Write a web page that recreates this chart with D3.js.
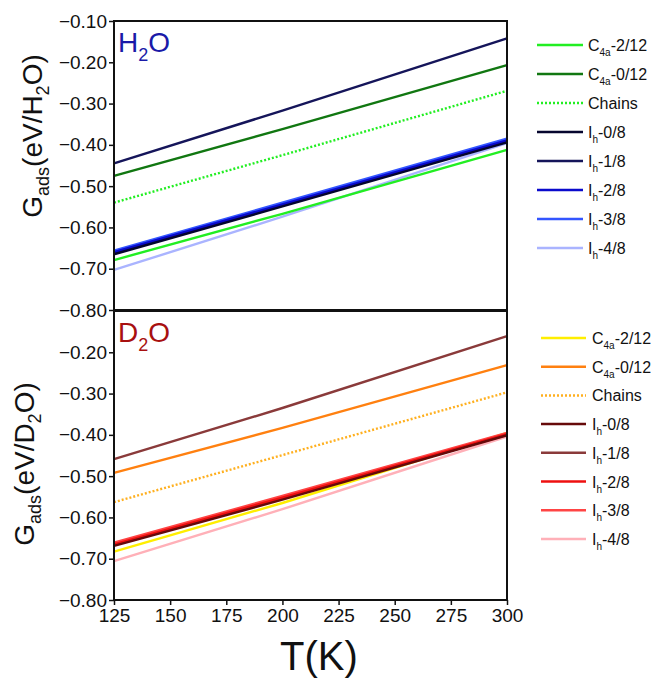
<!DOCTYPE html>
<html>
<head>
<meta charset="utf-8">
<script src="https://cdn.jsdelivr.net/npm/d3@7"></script>
<style>
  body { margin: 0; background: #fff; }
  text { font-family: "Liberation Sans", Arial, sans-serif; }
</style>
</head>
<body>
<script>
// temperatures (K) at which values were read
var temps = [125, 200, 300];
var xTicks = [125, 150, 175, 200, 225, 250, 275, 300];
var yTicks = [-0.8, -0.7, -0.6, -0.5, -0.4, -0.3, -0.2, -0.1];

var seriesNames = ["C4a-2/12", "C4a-0/12", "Chains", "Ih-0/8", "Ih-1/8", "Ih-2/8", "Ih-3/8", "Ih-4/8"];

// H2O panel
var h2oC4a212 = [-0.679, -0.567, -0.412];
var h2oC4a012 = [-0.475, -0.362, -0.207];
var h2oChains = [-0.540, -0.425, -0.269];
var h2oIh08 = [-0.665, -0.549, -0.394];
var h2oIh18 = [-0.445, -0.317, -0.142];
var h2oIh28 = [-0.661, -0.545, -0.390];
var h2oIh38 = [-0.657, -0.541, -0.386];
var h2oIh48 = [-0.703, -0.574, -0.396];

// D2O panel
var d2oC4a212 = [-0.683, -0.565, -0.395];
var d2oC4a012 = [-0.492, -0.383, -0.231];
var d2oChains = [-0.563, -0.449, -0.297];
var d2oIh08 = [-0.669, -0.557, -0.401];
var d2oIh18 = [-0.459, -0.335, -0.161];
var d2oIh28 = [-0.666, -0.553, -0.399];
var d2oIh38 = [-0.662, -0.549, -0.396];
var d2oIh48 = [-0.706, -0.580, -0.404];

var h2oColors = ["#22ee22", "#117711", "#22ee22", "#05052e", "#15155a", "#0a0acc", "#3355ff", "#aab4ff"];
var d2oColors = ["#ffee00", "#ff8010", "#ffb020", "#660a0a", "#8a3a3a", "#ee1010", "#ff4444", "#ffb0b8"];

var width = 654, height = 678;
var left = 114, right = 507;

var svg = d3.select("body").append("svg")
  .attr("width", width)
  .attr("height", height)
  .attr("font-family", "Liberation Sans, Arial, sans-serif");

var x = d3.scaleLinear().domain([125, 300]).range([left, right]);

var panels = [
  { top: 21, bottom: 310, name: "H", color: "#1a1aa8",
    series: [h2oC4a212, h2oC4a012, h2oChains, h2oIh08, h2oIh18, h2oIh28, h2oIh38, h2oIh48],
    colors: h2oColors, legY: 45, legX1: 537, legX2: 583, legT: 588, labelX: 42, labelY: 136 },
  { top: 311, bottom: 600, name: "D", color: "#a81010",
    series: [d2oC4a212, d2oC4a012, d2oChains, d2oIh08, d2oIh18, d2oIh28, d2oIh38, d2oIh48],
    colors: d2oColors, legY: 338, legX1: 541, legX2: 586, legT: 592, labelX: 34, labelY: 464 }
];

// draw order so the thick dark Ih-0/8 sits on top of its cluster
var drawOrder = [7, 0, 1, 2, 4, 6, 5, 3];

panels.forEach(function(p, pi) {
  var y = d3.scaleLinear().domain([-0.8, -0.1]).range([p.bottom, p.top]);

  var line = d3.line()
    .x(function(d, i) { return x(temps[i]); })
    .y(function(d) { return y(d); });

  var g = svg.append("g");

  drawOrder.forEach(function(k) {
    g.append("path")
      .datum(p.series[k])
      .attr("d", line)
      .attr("fill", "none")
      .attr("stroke", p.colors[k])
      .attr("stroke-width", k === 5 || k === 6 ? 3.2 : 2.4)
      .attr("stroke-dasharray", k === 2 ? "2,2" : null);
  });

  // y axis
  var yAxis = d3.axisLeft(y).tickValues(pi === 0 ? yTicks : yTicks.slice(0, 7))
    .tickFormat(d3.format(".2f")).tickSize(5).tickPadding(2);
  var ya = svg.append("g").attr("transform", "translate(" + left + ",0)").call(yAxis);
  ya.attr("font-family", null);
  ya.select(".domain").remove();
  ya.selectAll("line").attr("stroke", "#111").attr("stroke-width", 1.5);
  ya.selectAll("text").attr("font-size", 19).attr("fill", "#111");

  // frame
  svg.append("rect")
    .attr("x", left).attr("y", p.top)
    .attr("width", right - left).attr("height", p.bottom - p.top)
    .attr("fill", "none").attr("stroke", "#111").attr("stroke-width", 2);

  // panel label
  var pl = svg.append("text")
    .attr("x", 118).attr("y", p.top + 31)
    .attr("font-size", 28).attr("fill", p.color);
  pl.append("tspan").text(p.name);
  pl.append("tspan").attr("font-size", 18).attr("dy", 9).text("2");
  pl.append("tspan").attr("dy", -9).text("O");

  // y label
  var yl = svg.append("text")
    .attr("transform", "translate(" + p.labelX + "," + p.labelY + ") rotate(-90)")
    .attr("text-anchor", "middle")
    .attr("font-size", 28).attr("fill", "#111");
  yl.append("tspan").text("G");
  yl.append("tspan").attr("font-size", 18).attr("dy", 7).text("ads");
  yl.append("tspan").attr("dy", -7).text("(eV/" + p.name);
  yl.append("tspan").attr("font-size", 18).attr("dy", 7).text("2");
  yl.append("tspan").attr("dy", -7).text("O)");

  // legend
  var step = pi === 0 ? 29 : 28.7;
  seriesNames.forEach(function(nm, k) {
    var ly = p.legY + k * step;
    svg.append("line")
      .attr("x1", p.legX1).attr("x2", p.legX2)
      .attr("y1", ly).attr("y2", ly)
      .attr("stroke", p.colors[k]).attr("stroke-width", 2.5)
      .attr("stroke-dasharray", k === 2 ? "2,2" : null);
    var t = svg.append("text")
      .attr("x", p.legT).attr("y", ly + 6)
      .attr("font-size", 16).attr("fill", "#111");
    var parts = nm.split("-");
    var head = parts[0];
    if (head === "Chains") {
      t.text("Chains");
    } else {
      t.append("tspan").text(head.charAt(0));
      t.append("tspan").attr("font-size", 10).attr("dy", 5).text(head.slice(1));
      t.append("tspan").attr("dy", -5).text("-" + parts[1]);
    }
  });
});

// x axis on bottom panel
var xAxis = d3.axisBottom(x).tickValues(xTicks).tickSize(5).tickPadding(4);
var xa = svg.append("g").attr("transform", "translate(0,600)").call(xAxis);
xa.attr("font-family", null);
xa.select(".domain").remove();
xa.selectAll("line").attr("stroke", "#111").attr("stroke-width", 1.5);
xa.selectAll("text").attr("font-size", 19).attr("fill", "#111");

svg.append("text")
  .attr("x", 319).attr("y", 670)
  .attr("text-anchor", "middle")
  .attr("font-size", 40).attr("fill", "#111")
  .text("T(K)");
</script>
</body>
</html>
